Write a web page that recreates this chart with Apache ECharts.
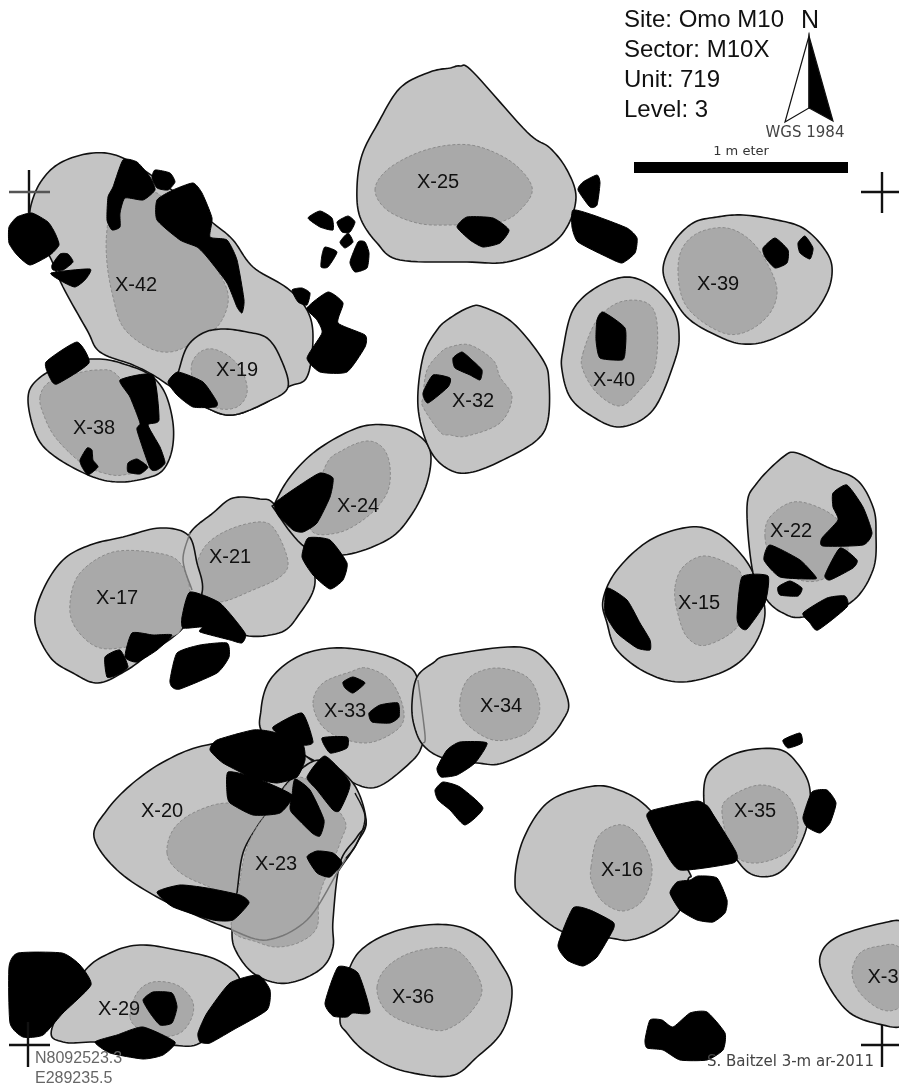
<!DOCTYPE html>
<html><head><meta charset="utf-8">
<style>html,body{margin:0;padding:0;background:#fff}#c{width:899px;height:1088px}</style>
<script src="https://cdn.jsdelivr.net/npm/echarts@6/dist/echarts.min.js"></script>
</head><body><div id="c"></div>
<script>
// Feature outlines, in map units (x, y down)
const x42Outer=[[30,210],[40,183],[60,163],[93,153],[123,158],[165,185],[213,223],[233,240],[253,267],[287,288],[307,310],[313,337],[307,377],[288,387],[267,402],[233,415],[207,408],[173,388],[153,375],[133,365],[100,352],[87,330],[63,287],[50,257],[33,227]];
const x42Inner=[[115,197],[107,230],[107,263],[113,297],[123,327],[147,347],[170,352],[193,343],[217,327],[228,303],[223,280],[200,247],[167,217],[157,193]];
const x19Outer=[[178,373],[187,347],[203,333],[223,329],[247,332],[267,338],[280,357],[288,387],[267,402],[233,415],[207,408],[173,387]];
const x19Inner=[[192,363],[200,352],[213,349],[230,357],[243,373],[247,393],[237,407],[217,408],[197,393],[192,377]];
const x38Outer=[[28,400],[37,380],[67,363],[100,359],[127,365],[150,375],[165,393],[173,423],[172,450],[163,470],[147,478],[120,482],[93,477],[57,458],[37,437]];
const x38Inner=[[40,397],[48,383],[70,375],[97,370],[117,375],[140,413],[147,463],[123,475],[100,472],[80,462],[55,437],[43,413]];
const x25Outer=[[357,187],[362,155],[377,125],[400,88],[430,72],[450,68],[460,66],[473,72],[527,132],[550,148],[567,170],[576,197],[567,227],[547,247],[507,262],[467,262],[400,260],[377,243],[360,217]];
const x25Inner=[[375,190],[387,170],[417,153],[450,145],[480,147],[513,163],[532,187],[523,207],[500,222],[450,225],[417,223],[387,210]];
const x39Outer=[[663,270],[673,243],[693,223],[717,217],[743,215],[777,220],[803,228],[823,247],[832,267],[827,293],[807,320],[770,340],[743,344],[720,337],[690,320],[673,297]];
const x39Inner=[[678,270],[683,247],[700,232],[727,228],[750,240],[767,263],[777,290],[770,313],[750,330],[727,334],[700,320],[683,300]];
const x40Outer=[[563,350],[573,310],[597,287],[627,277],[653,287],[673,310],[679,333],[675,360],[653,410],[620,427],[590,415],[570,397],[562,370]];
const x40Inner=[[583,353],[597,320],[620,302],[647,303],[657,323],[655,367],[640,390],[620,406],[597,393],[583,370]];
const x32Outer=[[418,407],[423,357],[437,330],[450,318],[470,307],[483,307],[513,323],[543,360],[549,383],[548,420],[537,440],[507,458],[473,472],[450,470],[430,450]];
const x32Inner=[[423,397],[427,370],[440,353],[450,347],[470,345],[493,360],[500,377],[512,397],[500,423],[467,436],[450,435],[440,432],[423,407]];
const x24Outer=[[275,503],[290,477],[317,450],[357,428],[387,425],[413,432],[430,450],[427,483],[410,517],[387,540],[343,555],[305,547],[275,510]];
const x24Inner=[[325,467],[343,450],[367,441],[383,448],[390,467],[387,493],[367,517],[337,533],[310,527]];
const x21Outer=[[190,533],[213,513],[233,498],[260,499],[275,505],[305,547],[315,583],[300,613],[279,633],[235,632],[195,590],[183,560]];
const x21Inner=[[197,565],[208,543],[233,528],[263,522],[277,533],[288,562],[280,577],[253,590],[220,602],[200,593]];
const x17Outer=[[35,623],[43,590],[63,560],[90,545],[123,537],[160,528],[188,535],[197,563],[202,593],[183,628],[150,653],[127,670],[98,683],[73,673],[50,657]];
const x17Inner=[[70,603],[80,573],[113,552],[157,553],[180,563],[190,593],[182,627],[170,637],[127,647],[97,647],[75,627]];
const x33Outer=[[261,710],[270,680],[297,657],[333,648],[373,652],[403,663],[418,680],[425,735],[423,743],[413,760],[377,787],[347,780],[313,760],[265,735]];
const x33Inner=[[313,703],[323,683],[350,672],[367,668],[390,680],[403,707],[400,727],[373,742],[347,740],[323,727]];
const x34Outer=[[412,703],[417,677],[433,663],[450,655],[520,647],[550,665],[568,700],[563,720],[543,743],[503,763],[477,763],[443,758],[423,745],[414,725]];
const x34Inner=[[460,700],[470,677],[497,668],[527,677],[539,700],[537,720],[523,735],[493,740],[465,722]];
const x20Outer=[[94,837],[107,810],[133,783],[167,760],[207,745],[273,740],[333,777],[365,817],[357,843],[337,873],[307,920],[267,940],[233,930],[200,917],[157,897],[117,870]];
const x20Inner=[[167,853],[173,830],[193,813],[227,803],[263,813],[243,853],[237,893],[200,883],[177,870]];
const x23Outer=[[232,933],[237,893],[243,853],[257,827],[267,813],[290,780],[320,760],[353,783],[366,820],[357,837],[340,863],[333,920],[333,947],[323,967],[300,980],[277,983],[253,973],[237,953]];
const x23Inner=[[232,930],[238,893],[247,847],[267,813],[300,777],[343,817],[340,843],[320,893],[317,927],[300,942],[277,947],[257,942]];
const x29Outer=[[52,1028],[83,973],[110,953],[140,945],[177,950],[217,960],[240,980],[230,1010],[200,1043],[167,1045],[100,1042],[63,1042]];
const x29Inner=[[130,1017],[137,993],[153,982],[177,985],[192,1000],[192,1017],[180,1033],[157,1037],[140,1030]];
const x36Outer=[[340,1017],[350,967],[370,943],[407,928],[450,925],[480,937],[500,962],[512,990],[503,1030],[477,1057],[450,1076],[400,1070],[367,1053],[347,1033]];
const x36Inner=[[377,987],[387,967],[413,952],[450,948],[470,963],[482,990],[470,1013],[450,1028],[433,1030],[400,1020],[383,1007]];
const x16Outer=[[515,880],[523,840],[547,803],[583,788],[613,788],[650,810],[688,870],[688,880],[680,910],[657,930],[630,940],[610,938],[563,932],[523,900]];
const x16Inner=[[591,867],[598,837],[617,825],[633,830],[647,850],[652,873],[643,900],[623,911],[603,902],[592,883]];
const x35Outer=[[704,803],[708,773],[737,753],[777,749],[797,763],[810,790],[805,833],[783,870],[757,876],[737,860],[710,810]];
const x35Inner=[[722,813],[730,797],[760,785],[787,795],[798,823],[790,850],[757,863],[733,853]];
const x3Outer=[[820,957],[837,937],[883,923],[905,923],[935,950],[935,1000],[905,1025],[883,1025],[850,1013],[827,983]];
const x3Inner=[[852,973],[860,953],[880,946],[899,947],[925,975],[925,985],[899,1008],[880,1009],[860,993]];
const x15Outer=[[603,600],[617,570],[650,540],[690,527],[717,533],[740,553],[755,577],[765,613],[753,647],[727,670],[683,682],[647,673],[617,650],[607,623]];
const x15Inner=[[675,587],[683,567],[703,556],[727,563],[742,577],[740,623],[707,645],[687,637],[677,610]];
const x22Outer=[[747,507],[757,483],[783,457],[797,453],[827,467],[857,480],[873,507],[876,533],[873,570],[850,603],[803,617],[783,613],[767,600],[753,573]];
const x22Inner=[[765,537],[770,517],[793,502],[820,508],[840,523],[848,550],[827,577],[800,580],[773,560]];

// Black stones
const stonesNorth=[
[[123,160],[137,162],[150,177],[155,190],[143,200],[125,198],[120,213],[120,227],[112,230],[107,220],[108,197],[113,187]],
[[155,170],[170,173],[175,182],[168,190],[157,188],[152,178]],
[[157,200],[173,190],[193,183],[202,193],[212,218],[210,237],[227,240],[237,260],[244,300],[242,313],[237,307],[227,283],[207,257],[197,247],[180,240],[157,220]],
[[9,227],[17,217],[32,213],[48,222],[55,233],[59,245],[50,255],[30,265],[17,255],[9,243]],
[[52,265],[60,254],[68,254],[73,262],[63,270],[53,270]],
[[51,273],[90,269],[85,280],[75,287],[63,282]],
[[168,382],[178,372],[203,382],[217,402],[215,407],[193,407],[177,395]],
[[292,290],[302,288],[310,293],[307,305],[298,302]],
[[307,308],[328,292],[343,303],[338,323],[365,335],[365,347],[347,372],[320,372],[307,358],[322,333],[317,320]],
[[308,218],[320,211],[332,218],[333,230],[320,227]],
[[337,222],[348,216],[355,222],[350,232],[342,232]],
[[340,242],[348,233],[353,242],[345,248]],
[[325,247],[337,252],[328,267],[321,267],[322,255]],
[[358,242],[365,242],[369,253],[367,268],[355,272],[350,262]],
[[46,362],[77,342],[89,363],[57,384],[50,378]],
[[120,380],[153,375],[159,420],[148,425],[160,447],[165,463],[157,470],[150,468],[137,430],[140,423],[130,397]],
[[87,448],[92,450],[93,460],[98,467],[88,475],[82,467],[80,460]],
[[128,463],[137,459],[148,467],[140,474],[128,472]],
[[457,227],[467,217],[493,218],[509,230],[500,243],[483,247],[470,240]],
[[578,190],[583,182],[597,175],[600,183],[597,205],[590,207]],
[[573,210],[593,215],[627,228],[637,238],[635,253],[622,263],[607,257],[578,242],[572,227]],
[[763,248],[775,238],[788,250],[787,263],[775,268],[765,257]],
[[798,243],[805,236],[813,248],[810,259],[800,253]],
[[597,320],[603,312],[625,328],[625,353],[622,360],[600,358],[596,340]],
[[423,393],[433,375],[450,378],[448,387],[428,403]],
[[453,358],[462,352],[472,360],[482,370],[480,380],[470,375],[455,368]]
];
const stonesMiddle=[
[[275,503],[300,485],[320,473],[333,478],[330,497],[317,523],[303,532],[293,530],[278,515]],
[[308,538],[330,540],[347,563],[343,580],[330,589],[313,575],[302,557]],
[[182,617],[190,592],[220,603],[245,633],[242,643],[230,640],[200,632],[202,627],[183,628]],
[[125,657],[132,633],[153,635],[172,635],[157,650],[137,662]],
[[105,657],[120,650],[128,667],[117,675],[107,677]],
[[170,680],[177,653],[200,645],[227,643],[229,657],[217,673],[180,689],[172,687]],
[[343,682],[353,677],[365,683],[353,693],[345,688]],
[[369,713],[380,705],[398,703],[399,717],[390,723],[372,722]],
[[322,738],[347,737],[347,748],[330,753]],
[[605,613],[607,588],[627,600],[640,623],[650,640],[650,650],[637,648],[617,633]],
[[737,617],[742,577],[768,576],[765,603],[747,629],[740,627]],
[[833,493],[847,485],[863,507],[872,533],[863,545],[823,546],[822,538],[838,520],[833,507]],
[[764,560],[770,545],[800,560],[816,577],[813,579],[780,577]],
[[825,575],[840,548],[857,560],[853,568],[830,580]],
[[778,587],[790,581],[802,588],[798,596],[780,595]],
[[803,613],[827,598],[845,596],[847,607],[818,630],[810,623]]
];
const stonesSouth=[
[[437,768],[447,750],[460,742],[487,743],[475,763],[457,775],[441,777]],
[[435,790],[443,782],[460,787],[483,808],[465,825],[450,810],[438,800]],
[[210,750],[217,740],[253,730],[273,732],[302,743],[305,760],[297,777],[277,783],[253,778],[223,763]],
[[273,727],[302,713],[313,742],[302,745],[280,735]],
[[228,772],[253,777],[292,795],[280,813],[253,815],[230,803],[227,793]],
[[292,795],[295,779],[310,790],[324,820],[320,836],[312,833],[292,813],[290,807]],
[[307,777],[325,756],[350,783],[340,810],[333,810],[317,790]],
[[307,857],[317,851],[333,853],[342,863],[330,877],[317,873]],
[[157,892],[180,885],[207,888],[240,895],[249,903],[233,920],[213,920],[173,907]],
[[9,967],[18,953],[62,953],[80,965],[91,985],[63,1013],[43,1035],[23,1037],[10,1023]],
[[143,1000],[153,992],[172,993],[177,1007],[172,1023],[160,1025],[150,1013]],
[[95,1042],[117,1035],[143,1027],[175,1042],[163,1055],[143,1059],[110,1053]],
[[198,1033],[207,1013],[230,983],[258,975],[270,990],[267,1010],[233,1030],[210,1043],[200,1042]],
[[325,1003],[338,967],[358,973],[370,1012],[353,1013],[347,1017],[333,1016]],
[[647,817],[653,810],[697,801],[710,810],[736,852],[733,863],[680,870],[663,848]],
[[670,893],[677,882],[690,880],[698,876],[717,878],[727,900],[725,913],[713,922],[697,920],[680,910]],
[[558,945],[573,908],[590,910],[613,922],[613,930],[597,957],[583,966],[567,960]],
[[783,740],[800,733],[802,743],[788,748]],
[[803,817],[812,792],[827,790],[836,803],[830,823],[820,833],[807,827]],
[[645,1040],[650,1020],[662,1020],[673,1027],[690,1013],[707,1012],[725,1033],[723,1050],[707,1060],[680,1060],[663,1050],[647,1048]]
];

// Pits in drawing order
const pits=[[x21Outer,x21Inner],[x17Outer,x17Inner],[x42Outer,x42Inner],[x19Outer,x19Inner],[x38Outer,x38Inner],[x25Outer,x25Inner],[x39Outer,x39Inner],[x40Outer,x40Inner],[x24Outer,x24Inner],[x32Outer,x32Inner],[x33Outer,x33Inner],[x34Outer,x34Inner],[x20Outer,x20Inner],[x23Outer,x23Inner],[x29Outer,x29Inner],[x36Outer,x36Inner],[x16Outer,x16Inner],[x35Outer,x35Inner],[x3Outer,x3Inner],[x15Outer,x15Inner],[x22Outer,x22Inner]];

// Hidden edges showing through an overlapping pit
const overlapEdges=[
[[190,533],[183,560],[192,590]],
[[418,680],[425,735],[423,743]],
[[232,930],[267,940],[307,920],[337,873],[346,858]]
];
const doubledEdge=[[346,858],[357,843],[365,817],[355,793]];

// Survey crosses
const crossLines=[
[[29,170],[29,213]],[[9,192],[50,192]],
[[882,172],[882,213]],[[861,192],[899,192]],
[[28,1022],[28,1067]],[[9,1045],[50,1045]],
[[882,1025],[882,1067]],[[861,1045],[899,1045]]
];
const arrowWhite=[[809,36],[785,122],[809,108]];
const arrowBlack=[[809,36],[833,121],[809,108]];
const scaleBar=[[634,162],[848,162],[848,173],[634,173]];

// Labels
const pitNames=['X-42','X-19','X-38','X-25','X-39','X-40','X-32','X-24','X-21','X-17','X-22','X-15','X-33','X-34','X-20','X-23','X-16','X-35','X-36','X-29','X-3'];
const pitLabelX=[136,237,94,438,718,614,473,358,230,117,791,699,345,501,162,276,622,755,413,119,883];
const pitLabelY=[285,370,428,182,284,380,401,506,557,598,531,603,711,706,811,864,870,811,997,1009,977];
const infoLines=['Site: Omo M10','Sector: M10X','Unit: 719','Level: 3'];
const infoY=[20,50,80,110];
const notes=[
 {t:'N',x:810,y:21,f:'Liberation Sans',s:25,c:'#111',a:'center'},
 {t:'WGS 1984',x:805,y:133,f:'DejaVu Sans',s:15,c:'#444',a:'center'},
 {t:'1 m eter',x:741,y:152,f:'DejaVu Sans',s:13,c:'#333',a:'center'},
 {t:'N8092523.3',x:35,y:1059,f:'Liberation Sans',s:16,c:'#666',a:'left'},
 {t:'E289235.5',x:35,y:1079,f:'Liberation Sans',s:16,c:'#666',a:'left'},
 {t:'S. Baitzel 3-m ar-2011',x:707,y:1062,f:'DejaVu Sans',s:15,c:'#444',a:'left'}
];

// Draws a curve through the outline's vertices (Catmull-Rom), in screen space
function curve(pts,closed,k){
  const n=pts.length,out=[];
  const at=i=>closed?pts[(i+n)%n]:pts[Math.max(0,Math.min(n-1,i))];
  const segs=closed?n:n-1;
  for(let i=0;i<segs;i++){
    const p0=at(i-1),p1=at(i),p2=at(i+1),p3=at(i+2);
    const c1=[p1[0]+(p2[0]-p0[0])*k/3,p1[1]+(p2[1]-p0[1])*k/3];
    const c2=[p2[0]-(p3[0]-p1[0])*k/3,p2[1]-(p3[1]-p1[1])*k/3];
    for(let s=0;s<10;s++){
      const t=s/10,u=1-t;
      out.push([u*u*u*p1[0]+3*u*u*t*c1[0]+3*u*t*t*c2[0]+t*t*t*p2[0],
                u*u*u*p1[1]+3*u*u*t*c1[1]+3*u*t*t*c2[1]+t*t*t*p2[1]]);
    }
  }
  if(!closed)out.push(pts[n-1]);
  return out;
}
function poly(api,pts,k,style){
  const s=pts.map(p=>api.coord(p));
  return {type:'polygon',shape:{points:k?curve(s,true,k):s},style:style};
}
function line(api,pts,style){
  const s=pts.map(p=>api.coord(p));
  return {type:'polyline',shape:{points:s.length>2?curve(s,false,0.5):s},style:Object.assign({fill:null},style)};
}
function text(api,x,y,t,font,size,color,align){
  const c=api.coord([x,y]);
  return {type:'text',x:c[0],y:c[1],style:{text:t,fontFamily:font,fontSize:size,fill:color,align:align,verticalAlign:'middle'}};
}
const allStones=stonesNorth.concat(stonesMiddle,stonesSouth);
function idx(a){return a.map((_,i)=>[i]);}
function custom(name,data,render){
  return {type:'custom',name:name,coordinateSystem:'cartesian2d',clip:true,silent:true,animation:false,data:idx(data),encode:{x:0},renderItem:function(p,api){return render(p.dataIndex,api);}};
}
const series=[
 custom('pits',pits,(i,api)=>({type:'group',children:[
   poly(api,pits[i][0],0.5,{fill:'#c4c4c4',stroke:'#111',lineWidth:1.6}),
   poly(api,pits[i][1],0.5,{fill:'#a9a9a9',stroke:'#8a8a8a',lineWidth:1,lineDash:[3,2]})
 ]})),
 custom('edges',overlapEdges,(i,api)=>line(api,overlapEdges[i],{stroke:'#777',lineWidth:1.5})),
 custom('doubled',[0],(i,api)=>line(api,doubledEdge,{stroke:'#111',lineWidth:1.4})),
 custom('stones',allStones,(i,api)=>poly(api,allStones[i],0.28,{fill:'#000',stroke:'#000',lineWidth:1})),
 custom('crosses',crossLines,(i,api)=>line(api,crossLines[i],{stroke:i===1?'#555':'#111',lineWidth:2.4})),
 custom('arrowW',[0],(i,api)=>poly(api,arrowWhite,0,{fill:'#fff',stroke:'#111',lineWidth:1.2})),
 custom('arrowB',[0],(i,api)=>poly(api,arrowBlack,0,{fill:'#000',stroke:'#111',lineWidth:1.2})),
 custom('bar',[0],(i,api)=>poly(api,scaleBar,0,{fill:'#000'})),
 custom('pitLabels',pitNames,(i,api)=>text(api,pitLabelX[i],pitLabelY[i],pitNames[i],'Liberation Sans',20,'#111','center')),
 custom('info',infoLines,(i,api)=>text(api,624,infoY[i],infoLines[i],'Liberation Sans',24,'#111','left')),
 custom('notes',notes,(i,api)=>{const n=notes[i];return text(api,n.x,n.y,n.t,n.f,n.s,n.c,n.a);})
];
const chart=echarts.init(document.getElementById('c'),null,{renderer:'canvas'});
chart.setOption({
  animation:false,backgroundColor:'#fff',
  grid:{left:0,right:0,top:0,bottom:0,containLabel:false},
  xAxis:{type:'value',min:0,max:899,show:false},
  yAxis:{type:'value',min:0,max:1088,inverse:true,show:false},
  series:series
});
</script></body></html>
